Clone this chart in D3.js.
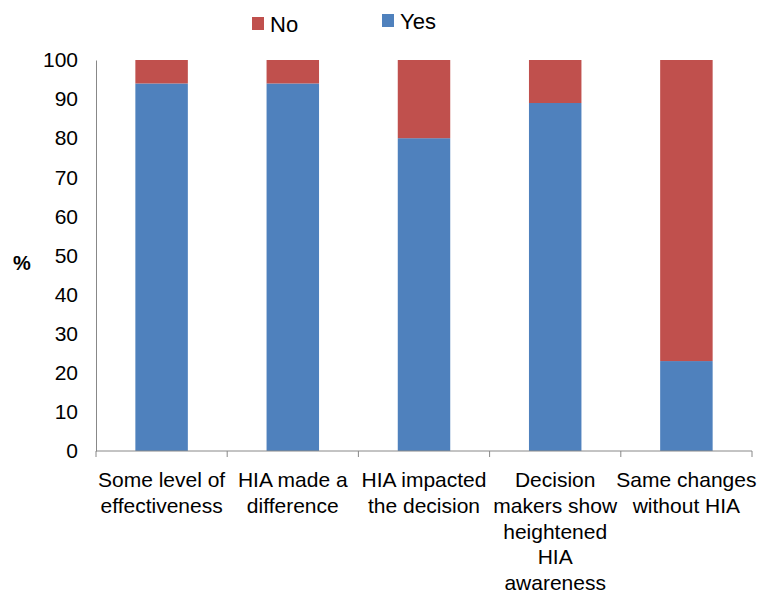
<!DOCTYPE html>
<html><head><meta charset="utf-8">
<script src="https://cdn.jsdelivr.net/npm/d3@7"></script>
<style>body{margin:0;background:#fff}svg{display:block}text{font-family:"Liberation Sans",Arial,Helvetica,sans-serif;fill:#000}</style>
</head><body>
<svg id="c" width="771" height="593"></svg>
<script>
const categories = ["Some level of effectiveness","HIA made a difference","HIA impacted the decision","Decision makers show heightened HIA awareness","Same changes without HIA"];
const categoryLines = [["Some level of","effectiveness"],["HIA made a","difference"],["HIA impacted","the decision"],["Decision","makers show","heightened","HIA","awareness"],["Same changes","without HIA"]];
const yesValues = [94, 94, 80, 89, 23];
const noValues = [6, 6, 20, 11, 77];
const yTicks = [0,10,20,30,40,50,60,70,80,90,100];
const seriesNames = ["Yes","No"];
const colors = {Yes:"#4F81BD", No:"#C0504D"};

const svg = d3.select("#c");
const m = {l:96, r:19, t:60, b:142};
const W = 771, H = 593;
const x = d3.scaleBand().domain(categories).range([m.l, W-m.r]).paddingInner(0).paddingOuter(0);
const y = d3.scaleLinear().domain([0,100]).range([H-m.b, m.t]);

const data = categories.map((c,i)=>({cat:c, Yes:yesValues[i], No:noValues[i]}));
const stack = d3.stack().keys(seriesNames)(data);
const bw = x.bandwidth()*0.4;

svg.append("g").selectAll("g").data(stack).join("g")
  .attr("fill", d=>colors[d.key])
  .selectAll("rect").data(d=>d).join("rect")
  .attr("x", d=>x(d.data.cat)+(x.bandwidth()-bw)/2)
  .attr("width", bw)
  .attr("y", d=>y(d[1]))
  .attr("height", d=>y(d[0])-y(d[1]));

// y axis
const ya = svg.append("g").attr("transform",`translate(${m.l},0)`)
  .call(d3.axisLeft(y).tickValues(yTicks).tickSize(0).tickPadding(18));
ya.select(".domain").attr("stroke","#888");
ya.selectAll("text").style("font-size","21px").attr("fill","#000");

// x axis
const xa = svg.append("g").attr("transform",`translate(0,${y(0)})`);
xa.append("line").attr("x1",m.l).attr("x2",W-m.r).attr("stroke","#888");
const bounds = categories.map(c=>x(c)).concat([x(categories[categories.length-1])+x.bandwidth()]);
xa.selectAll("line.t").data(bounds).join("line").attr("class","t")
  .attr("x1",d=>d).attr("x2",d=>d).attr("y1",0).attr("y2",6).attr("stroke","#888");

const lbl = svg.append("g");
categories.forEach((c,i)=>{
  const t = lbl.append("text").attr("text-anchor","middle").style("font-size","21px")
    .attr("x", x(c)+x.bandwidth()/2);
  categoryLines[i].forEach((ln,j)=>{
    t.append("tspan").attr("x", x(c)+x.bandwidth()/2).attr("y", 487+j*25.8).text(ln);
  });
});

// y title
svg.append("text").attr("x",22).attr("y",270).attr("text-anchor","middle")
  .style("font-size","20px").style("font-weight","bold").text("%");

// legend
const leg = [{k:"No",x:252,y:17},{k:"Yes",x:382,y:14}];
leg.forEach(l=>{
  svg.append("rect").attr("x",l.x).attr("y",l.y).attr("width",12).attr("height",13).attr("fill",colors[l.k]);
  svg.append("text").attr("x",l.x+18).attr("y",l.y+15).style("font-size","22px").text(l.k);
});
</script>
</body></html>
